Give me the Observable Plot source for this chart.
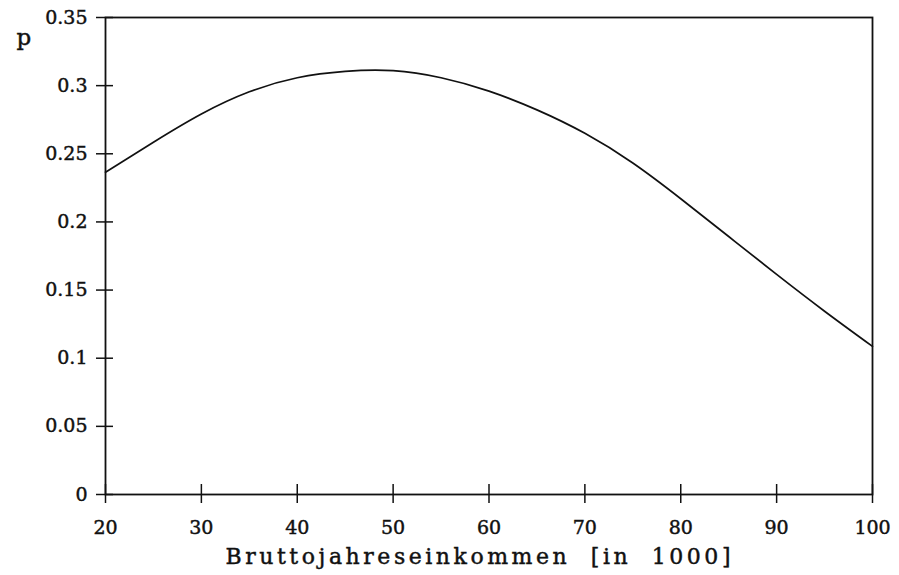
<!DOCTYPE html>
<html>
<head>
<meta charset="utf-8">
<script src="https://cdn.jsdelivr.net/npm/d3@7"></script>
<script src="https://cdn.jsdelivr.net/npm/@observablehq/plot@0.6"></script>
<style>
  html, body { margin: 0; padding: 0; background: #fff; }
  svg { display: block; }
</style>
</head>
<body>
<div id="chart"></div>
<script>
// Income (in 1000) and probability p
const income = [20, 25, 30, 35, 40, 45, 50, 55, 60, 65, 70, 75, 80, 85, 90, 95, 100];
const prob   = [0.2365, 0.2585, 0.2792, 0.2955, 0.3058, 0.3105, 0.3110, 0.3058, 0.2960, 0.2822, 0.2650, 0.2432, 0.2170, 0.1893, 0.1615, 0.1345, 0.1087];

const xTicks = [20, 30, 40, 50, 60, 70, 80, 90, 100];
const yTicks = [0, 0.05, 0.1, 0.15, 0.2, 0.25, 0.3, 0.35];
const yTickLabels = ["0", "0.05", "0.1", "0.15", "0.2", "0.25", "0.3", "0.35"];
const xLabel = "Bruttojahreseinkommen [in 1000]";
const yLabel = "p";

const data = income.map((x, i) => ({x, p: prob[i]}));
const font = "'DejaVu Serif', serif";

const W = 899, H = 575, mL = 105, mR = 27, mT = 17, mB = 81;
const innerW = W - mL - mR, innerH = H - mT - mB;

const chart = Plot.plot({
  width: W,
  height: H,
  marginLeft: mL,
  marginRight: mR,
  marginTop: mT,
  marginBottom: mB,
  style: {fontFamily: font, fontSize: "19px", color: "#111", background: "#fff"},
  x: {domain: [20, 100]},
  y: {domain: [0, 0.35]},
  marks: [
    Plot.frame({stroke: "#111", strokeWidth: 1.8}),
    // outside part of the ticks + labels
    Plot.axisY(yTicks, {
      tickSize: 9, tickPadding: 9,
      tickFormat: d => yTickLabels[yTicks.indexOf(d)],
      stroke: "#111", strokeWidth: 1.5, fill: "#111",
      label: null, fontSize: 19
    }),
    Plot.axisX(xTicks, {
      tickSize: 9, tickPadding: 17,
      tickFormat: d => String(d),
      stroke: "#111", strokeWidth: 1.5, fill: "#111",
      label: null, fontSize: 19
    }),
    // inside part of the ticks (ticks cross the axis line)
    Plot.tickY(yTicks, {y: d => d, stroke: "#111", strokeWidth: 1.5, insetRight: innerW - 8}),
    Plot.tickX(xTicks, {x: d => d, stroke: "#111", strokeWidth: 1.5, insetTop: innerH - 10}),
    Plot.line(data, {x: "x", y: "p", curve: "natural", stroke: "#111", strokeWidth: 1.7}),
    Plot.text([xLabel], {
      frameAnchor: "bottom", dx: -11, dy: 62, fontSize: 22, fill: "#111",
      fontFamily: font, lineAnchor: "middle"
    }),
    Plot.text([yLabel], {
      frameAnchor: "top-left", dx: -89, dy: 20, fontSize: 23, fill: "#111",
      fontFamily: font, lineAnchor: "middle"
    })
  ]
});

// spacing on the x-axis title, slightly heavier glyphs overall
const svg = d3.select(chart);
svg.selectAll("text").filter(function() { return this.textContent === xLabel; })
  .attr("word-spacing", "10px")
  .attr("textLength", 505)
  .attr("lengthAdjust", "spacing");
svg.selectAll("text").attr("stroke", "#111").attr("stroke-width", 0.45).attr("paint-order", "fill");

document.getElementById("chart").appendChild(chart);
</script>
</body>
</html>
